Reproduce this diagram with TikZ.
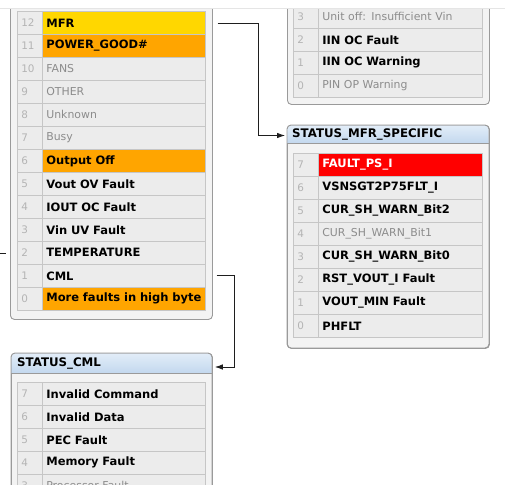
\documentclass[tikz,border=0pt]{standalone}
\usepackage{fontspec}
\setmainfont{DejaVu Sans}
\usetikzlibrary{arrows.meta}
\definecolor{panelborder}{HTML}{9A9A9A}
\definecolor{panelfill}{HTML}{F3F3F3}
\definecolor{cellfill}{HTML}{ECECEC}
\definecolor{cellborder}{HTML}{C6C6C6}
\definecolor{numgray}{HTML}{B4B4B4}
\definecolor{labgray}{HTML}{8C8C8C}
\definecolor{hdrtop}{HTML}{E2EDF8}
\definecolor{hdrbot}{HTML}{C3D8EE}
\definecolor{mfryellow}{HTML}{FFD700}
\definecolor{faultorange}{HTML}{FFA500}
\definecolor{faultred}{HTML}{FF0000}
\definecolor{connclr}{HTML}{1E1E1E}
\newcommand\myboldsz{\fontsize{11.5}{13}\selectfont}
\newcommand\myregsz{\fontsize{10.9}{12}\selectfont}
\newcommand\mynumsz{\fontsize{10.4}{12}\selectfont}
\newcommand\myhdrsz{\fontsize{11.8}{13}\selectfont}
\newcommand\brow[6]{%
  \node[numcell] (#1n) at (#2,#3) {#4};
  \node[labcell,#6] (#1) at (#2+25,#3) {\mbox{#5}};}
\begin{document}
\begin{tikzpicture}[x=1pt,y=-1pt,
  panel/.style={draw=panelborder, fill=panelfill, rounded corners=4pt, line width=0.9pt, anchor=north west, inner sep=0pt},
  numcell/.style={draw=cellborder, fill=cellfill, anchor=north west, minimum width=25pt, minimum height=23pt, inner xsep=4pt, inner ysep=0pt, text width=17pt, align=left, text=numgray, font=\mynumsz, line width=0.7pt},
  labcell/.style={draw=cellborder, fill=cellfill, anchor=north west, minimum height=23pt, inner xsep=4pt, inner ysep=0pt, text width=155pt, align=left, font=\myboldsz\bfseries, text=black, line width=0.7pt},
  labR/.style={text width=156pt},
  grey/.style={font=\myregsz, text=labgray},
  yel/.style={fill=mfryellow},
  ora/.style={fill=faultorange},
  red/.style={fill=faultred, text=white},
  title/.style={anchor=west, font=\myhdrsz\bfseries, inner sep=0pt},
  conn/.style={draw=connclr, line width=0.8pt, -{Latex[length=8pt,width=5.5pt]}},
  plain/.style={draw=connclr, line width=0.8pt}
]
\useasboundingbox (0,0) rectangle (505,490);
\fill[white] (0,0) rectangle (505,490);
\draw[black!10] (0,8.5) -- (505,8.5);
\begin{scope}
\clip (0,9) rectangle (505,484);
% ---- left panel
\node[panel, minimum width=202pt, minimum height=339pt] (lpanel) at (10,-20) {};
\brow{b12}{17}{11}{12}{MFR}{yel}
\brow{b11}{17}{34}{11}{POWER\_GOOD\#}{ora}
\brow{b10}{17}{57}{10}{FANS}{grey}
\brow{b9}{17}{80}{9}{OTHER}{grey}
\brow{b8}{17}{103}{8}{Unknown}{grey}
\brow{b7}{17}{126}{7}{Busy}{grey}
\brow{b6}{17}{149}{6}{Output Off}{ora}
\brow{b5}{17}{172}{5}{Vout OV Fault}{}
\brow{b4}{17}{195}{4}{IOUT OC Fault}{}
\brow{b3}{17}{218}{3}{Vin UV Fault}{}
\brow{b2}{17}{241}{2}{TEMPERATURE}{}
\brow{b1}{17}{264}{1}{CML}{}
\brow{b0}{17}{287}{0}{More faults in high byte}{ora}
% ---- right top panel
\node[panel, minimum width=202pt, minimum height=124pt] (rtpanel) at (287,-20) {};
\brow{i3}{293}{5}{3}{Unit off: Insufficient Vin}{labR,grey}
\brow{i2}{293}{28}{2}{IIN OC Fault}{labR}
\brow{i1}{293}{51}{1}{IIN OC Warning}{labR}
\brow{i0}{293}{74}{0}{PIN OP Warning}{labR,grey}
% ---- STATUS_MFR_SPECIFIC
\node[panel, minimum width=202pt, minimum height=223pt] (mpanel) at (287,125) {};
\shade[top color=hdrtop, bottom color=hdrbot] (287.45,143) [rounded corners=3.6pt] -- (287.45,125.45) -- (488.55,125.45) [sharp corners] -- (488.55,143) -- cycle;
\draw[panelborder, line width=0.7pt] (287.45,143) -- (488.55,143);
\draw[panelborder, line width=0.9pt, rounded corners=4pt] (287,348) rectangle (489,125);
\node[title] (mtitle) at (292,134.5) {STATUS\_MFR\_SPECIFIC};
\brow{m7}{293}{153}{7}{FAULT\_PS\_I}{labR,red}
\brow{m6}{293}{176}{6}{VSNSGT2P75FLT\_I}{labR}
\brow{m5}{293}{199}{5}{CUR\_SH\_WARN\_Bit2}{labR}
\brow{m4}{293}{222}{4}{CUR\_SH\_WARN\_Bit1}{labR,grey}
\brow{m3}{293}{245}{3}{CUR\_SH\_WARN\_Bit0}{labR}
\brow{m2}{293}{268}{2}{RST\_VOUT\_I Fault}{labR}
\brow{m1}{293}{291}{1}{VOUT\_MIN Fault}{labR}
\brow{m0}{293}{314}{0}{PHFLT}{labR}
% ---- STATUS_CML
\node[panel, minimum width=201pt, minimum height=170pt] (cpanel) at (11,353) {};
\shade[top color=hdrtop, bottom color=hdrbot] (11.45,373) [rounded corners=3.6pt] -- (11.45,353.45) -- (211.55,353.45) [sharp corners] -- (211.55,373) -- cycle;
\draw[panelborder, line width=0.7pt] (11.45,373) -- (211.55,373);
\draw[panelborder, line width=0.9pt, rounded corners=4pt] (11,523) rectangle (212,353);
\node[title] (ctitle) at (17,363.5) {STATUS\_CML};
\brow{c7}{17}{382}{7}{Invalid Command}{}
\brow{c6}{17}{405}{6}{Invalid Data}{}
\brow{c5}{17}{428}{5}{PEC Fault}{}
\brow{c4}{17}{451}{4}{Memory Fault}{}
\brow{c3}{17}{474}{3}{Processor Fault}{grey}
\end{scope}
% ---- connectors
\coordinate (min) at (mpanel.west |- mtitle);
\coordinate (cin) at (cpanel.east |- ctitle);
\coordinate (tin) at (0,253);
\draw[conn] ([xshift=12pt,yshift=-1pt]b12.east) -- ++(41,0) |- ([xshift=-2pt,yshift=-1pt]min);
\draw[conn] ([xshift=11pt]b1.east) -- ++(18,0) |- ([xshift=2pt,yshift=-3.5pt]cin);
\draw[plain] (tin) -- ([xshift=-4pt]lpanel.west |- tin);
\end{tikzpicture}
\end{document}
